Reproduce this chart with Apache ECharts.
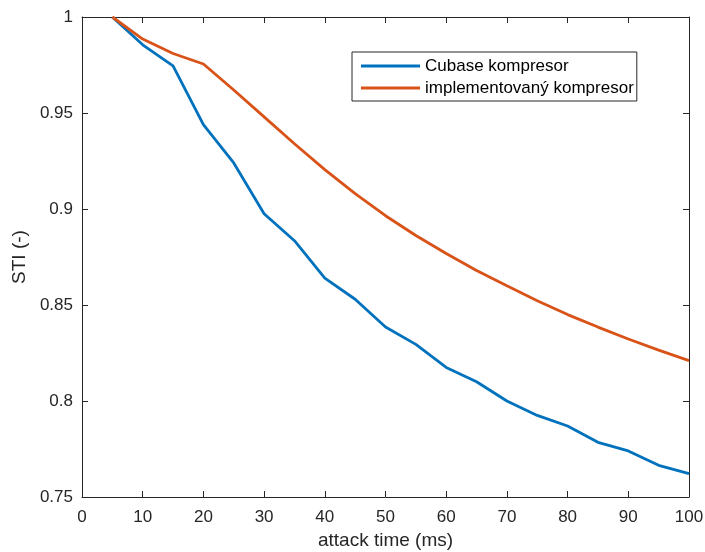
<!DOCTYPE html>
<html>
<head>
<meta charset="utf-8">
<script src="https://cdn.jsdelivr.net/npm/echarts@6/dist/echarts.min.js"></script>
<style>
html,body{margin:0;padding:0;background:#fff;}
#chart{width:705px;height:552px;}
</style>
</head>
<body>
<div id="chart"></div>
<script>
var attackTimes = [5,10,15,20,25,30,35,40,45,50,55,60,65,70,75,80,85,90,95,100];
var cubase = [1.000,0.9855,0.9745,0.944,0.924,0.8975,0.8835,0.864,0.853,0.8385,0.8295,0.8175,0.810,0.800,0.7925,0.787,0.7785,0.774,0.7665,0.7622];
var implemented = [1.000,0.9885,0.981,0.9755,0.962,0.948,0.934,0.9205,0.908,0.8965,0.8862,0.8768,0.868,0.860,0.8522,0.845,0.8385,0.8323,0.8265,0.821];
var seriesNames = ['Cubase kompresor','implementovaný kompresor'];
var xName = 'attack time (ms)';
var yName = 'STI (-)';

var font = '"Liberation Sans", Arial, Helvetica, sans-serif';
var dark = '#262626';

function pairs(xs, ys){ return xs.map(function(x,i){ return [x, ys[i]]; }); }

var chart = echarts.init(document.getElementById('chart'), null, {renderer:'canvas'});

function xAx(pos, show){
  return {
    type:'value', position:pos, min:0, max:100, interval:10,
    name: show ? xName : '', nameLocation:'middle', nameGap:34,
    nameTextStyle:{color:dark, fontFamily:font, fontSize:19},
    axisLine:{show:true, onZero:false, lineStyle:{color:dark, width:1}},
    axisTick:{show:true, inside:true, length:6, lineStyle:{color:dark, width:1}},
    axisLabel:{show:show, color:dark, fontFamily:font, fontSize:17, margin:12},
    splitLine:{show:false}
  };
}
function yAx(pos, show){
  return {
    type:'value', position:pos, min:0.75, max:1, interval:0.05,
    name: show ? yName : '', nameLocation:'middle', nameGap:51,
    nameTextStyle:{color:dark, fontFamily:font, fontSize:19},
    axisLine:{show:true, onZero:false, lineStyle:{color:dark, width:1}},
    axisTick:{show:true, inside:true, length:6, lineStyle:{color:dark, width:1}},
    axisLabel:{show:show, color:dark, fontFamily:font, fontSize:17, margin:9,
      formatter:function(v){ return String(parseFloat(v.toFixed(2))); }},
    splitLine:{show:false}
  };
}

chart.setOption({
  animation:false,
  backgroundColor:'#fff',
  grid:{left:82, right:16, top:17, bottom:55, containLabel:false, outerBoundsMode:'none'},
  xAxis:[xAx('bottom', true), xAx('top', false)],
  yAxis:[yAx('left', true), yAx('right', false)],
  legend:{
    orient:'vertical', left:352, top:52,
    padding:[5,3,4,9], itemGap:4,
    itemWidth:59, itemHeight:3, icon:'rect',
    borderColor:dark, borderWidth:1, backgroundColor:'#fff',
    textStyle:{color:'#000', fontFamily:font, fontSize:17, lineHeight:18},
    data:seriesNames
  },
  series:[
    {name:seriesNames[0], type:'line', xAxisIndex:0, yAxisIndex:0, symbol:'none',
     lineStyle:{color:'#0072BD', width:2.8}, itemStyle:{color:'#0072BD'},
     data:pairs(attackTimes, cubase)},
    {name:seriesNames[1], type:'line', xAxisIndex:0, yAxisIndex:0, symbol:'none',
     lineStyle:{color:'#D95319', width:2.8}, itemStyle:{color:'#D95319'},
     data:pairs(attackTimes, implemented)}
  ]
});
</script>
</body>
</html>
